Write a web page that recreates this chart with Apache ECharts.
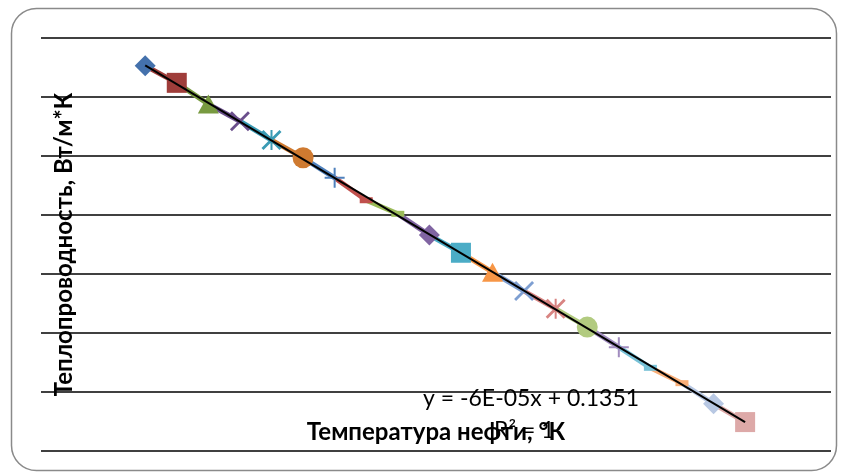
<!DOCTYPE html>
<html><head><meta charset="utf-8">
<script src="https://cdn.jsdelivr.net/npm/echarts@6/dist/echarts.min.js"></script>
<style>html,body{margin:0;padding:0;background:#fff}#c{width:846px;height:474px}</style>
</head><body><div id="c"></div>
<script>
// Data
const temperatures = [273, 278, 283, 288, 293, 298, 303, 308, 313, 318, 323, 328, 333, 338, 343, 348, 353, 358, 363, 368];
const conductivity = [0.11853, 0.11824, 0.11788, 0.11759, 0.11727, 0.11697, 0.11663, 0.11625, 0.11602, 0.11566,
                      0.11536, 0.11503, 0.11471, 0.11441, 0.11410, 0.11376, 0.11341, 0.11315, 0.11280, 0.11249];
const seriesColors = ['#4471AC', '#9F3D3A', '#789A40', '#6B4F8C', '#3A9BB4', '#CF7A30',
                      '#4F81BD', '#C0504D', '#9BBB59', '#8064A2', '#4BACC6', '#F79646',
                      '#7E9FD2', '#D88482', '#B2CB80', '#A18CBF', '#78C2D7', '#F9AE77',
                      '#B8C8E3', '#DDA9A8'];
const markerTypes = ['diamond', 'square', 'triangle', 'x', 'star', 'circle', 'plus', 'dash', 'dash',
                     'diamond', 'square', 'triangle', 'x', 'star', 'circle', 'plus', 'dash', 'dash',
                     'diamond', 'square'];
const yAxisTitle = 'Теплопроводность, Вт/м*К';
const xAxisTitle = 'Температура нефти, °К';
const trendEquation = 'y = -6E-05x + 0.1351';
const trendR2 = 'R² = 1';

const symbolDefs = {
  diamond: ['diamond', [21, 21]],
  square: ['rect', [20, 20]],
  triangle: ['triangle', [21, 19]],
  circle: ['circle', [21, 21]],
  x: ['path://M2,0 L10,8 L18,0 L20,2 L12,10 L20,18 L18,20 L10,12 L2,20 L0,18 L8,10 L0,2 Z', [20, 20]],
  star: ['path://M2,0 L10,8 L18,0 L20,2 L12,10 L20,18 L18,20 L10,12 L2,20 L0,18 L8,10 L0,2 Z M9,0 L11,0 L11,20 L9,20 Z', [20, 20]],
  plus: ['path://M9,0 L11,0 L11,9 L20,9 L20,11 L11,11 L11,20 L9,20 L9,11 L0,11 L0,9 L9,9 Z', [20, 20]],
  dash: ['rect', [13, 6]]
};

const series = [];
for (let k = 0; k < temperatures.length; k++) {
  const def = symbolDefs[markerTypes[k]];
  const data = k === 0
    ? [[temperatures[0], conductivity[0]]]
    : [{ value: [temperatures[k - 1], conductivity[k - 1]], symbol: 'none' }, [temperatures[k], conductivity[k]]];
  series.push({
    type: 'line', data: data, symbol: def[0], symbolSize: def[1], showSymbol: true,
    lineStyle: { color: seriesColors[k], width: 5 },
    itemStyle: { color: seriesColors[k] },
    animation: false, z: 2
  });
}

// linear trend (least squares)
const n = temperatures.length;
let sx = 0, sy = 0, sxx = 0, sxy = 0;
for (let i = 0; i < n; i++) { sx += temperatures[i]; sy += conductivity[i]; sxx += temperatures[i] ** 2; sxy += temperatures[i] * conductivity[i]; }
const slope = (n * sxy - sx * sy) / (n * sxx - sx * sx);
const icpt = (sy - slope * sx) / n;
series.push({
  type: 'line', symbol: 'none', animation: false, z: 5,
  data: [[temperatures[0], icpt + slope * temperatures[0]], [temperatures[n - 1], icpt + slope * temperatures[n - 1]]],
  lineStyle: { color: '#000', width: 2 }
});

const chart = echarts.init(document.getElementById('c'), null, { renderer: 'canvas' });
chart.setOption({
  backgroundColor: '#fff',
  animation: false,
  grid: { left: 41, top: 38, width: 790, height: 413 },
  xAxis: {
    type: 'value', min: 256.5, max: 381.6,
    axisLine: { show: false }, axisTick: { show: false }, axisLabel: { show: false }, splitLine: { show: false },
    name: xAxisTitle, nameLocation: 'middle', nameGap: -31,
    nameTextStyle: { fontFamily: 'Lato', fontWeight: 'bold', fontSize: 24, color: '#000' }
  },
  yAxis: {
    type: 'value', min: 0.112, max: 0.119, interval: 0.001,
    axisLine: { show: false }, axisTick: { show: false }, axisLabel: { show: false },
    splitLine: { show: true, lineStyle: { color: '#000', width: 1.5 } },
    name: yAxisTitle, nameLocation: 'middle', nameGap: -35,
    nameTextStyle: { fontFamily: 'Lato', fontWeight: 'bold', fontSize: 24, color: '#000' }
  },
  series: series,
  graphic: [
    { type: 'rect', z: 100, silent: true, shape: { x: 11.5, y: 8.5, width: 825, height: 462, r: 25 },
      style: { fill: 'none', stroke: '#8a8a8a', lineWidth: 1.5 } },
    { type: 'text', z: 100, left: 423, top: 387, style: { text: trendEquation, font: '23px Lato', fill: '#000' } },
    { type: 'text', z: 100, left: 494, top: 419, style: { text: trendR2, font: '23px Lato', fill: '#000' } }
  ]
});
</script></body></html>
